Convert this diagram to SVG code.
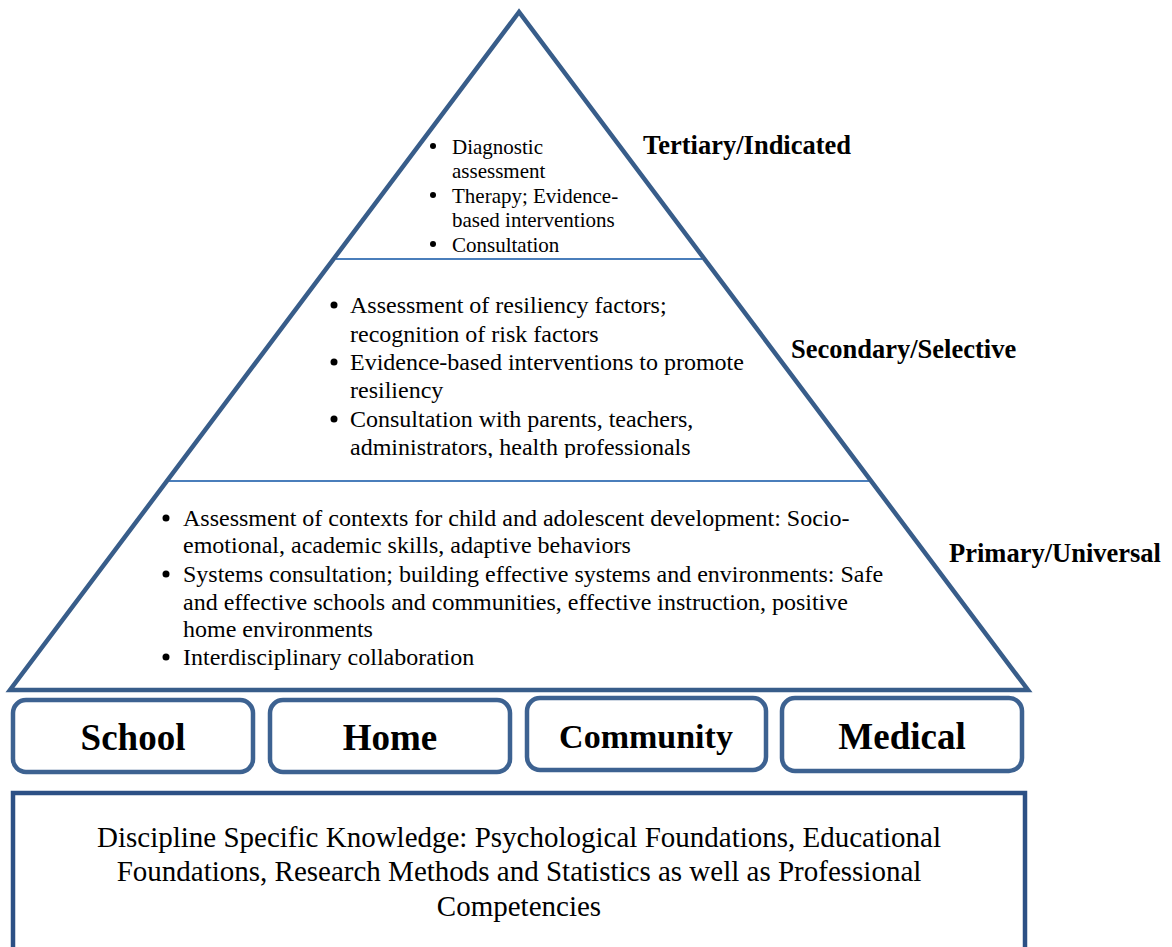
<svg xmlns="http://www.w3.org/2000/svg" width="1172" height="947" viewBox="0 0 1172 947">
  <style>
    text { font-family: "Liberation Serif", "Times New Roman", serif; font-weight: 400; fill: #000; }
    .tier { font-weight: 700; font-size: 26.5px; }
    .ctx { font-weight: 700; font-size: 37px; text-anchor: middle; }
    .divider { stroke: #4a7ebb; stroke-width: 2; fill: none; }
    .pyramid { stroke: #385d8a; stroke-width: 4.5; stroke-linejoin: miter; }
    .ctxbox { stroke: #3d6291; stroke-width: 4.5; fill: #fff; }
    .base { stroke: #2c5085; stroke-width: 4.5; fill: #fff; }
    .dot { fill: #000; }
  </style>
  <defs>
    <clipPath id="clipSecondary">
      <rect x="300" y="280" width="500" height="178"/>
    </clipPath>
  </defs>

  <rect width="1172" height="947" fill="#fff"/>

  <!-- pyramid outline with tier dividers -->
  <g id="pyramid">
    <line class="divider" x1="336" y1="259" x2="702" y2="259"/>
    <line class="divider" x1="169" y1="481" x2="869" y2="481"/>
    <polygon class="pyramid" points="519,12 10,690 1028,690" fill="none"/>
  </g>

  <!-- tertiary tier -->
  <g id="tertiary" font-size="21">
    <circle class="dot" cx="433" cy="146" r="3"/>
    <text x="452" y="154">Diagnostic</text>
    <text x="452" y="178">assessment</text>
    <circle class="dot" cx="433" cy="195" r="3"/>
    <text x="452" y="203">Therapy; Evidence-</text>
    <text x="452" y="227">based interventions</text>
    <circle class="dot" cx="433" cy="244" r="3"/>
    <text x="452" y="252">Consultation</text>
  </g>
  <text id="label-tertiary" class="tier" x="643" y="154">Tertiary/Indicated</text>

  <!-- secondary tier -->
  <g id="secondary" font-size="24" clip-path="url(#clipSecondary)">
    <circle class="dot" cx="334" cy="305" r="3.5"/>
    <text x="350" y="313">Assessment of resiliency factors;</text>
    <text x="350" y="342">recognition of risk factors</text>
    <circle class="dot" cx="334" cy="362" r="3.5"/>
    <text x="350" y="370">Evidence-based interventions to promote</text>
    <text x="350" y="398">resiliency</text>
    <circle class="dot" cx="334" cy="419" r="3.5"/>
    <text x="350" y="427">Consultation with parents, teachers,</text>
    <text x="350" y="455">administrators, health professionals</text>
  </g>
  <text id="label-secondary" class="tier" x="791" y="358">Secondary/Selective</text>

  <!-- primary tier -->
  <g id="primary" font-size="24">
    <circle class="dot" cx="166" cy="518" r="3.5"/>
    <text x="183" y="526">Assessment of contexts for child and adolescent development: Socio-</text>
    <text x="183" y="553">emotional, academic skills, adaptive behaviors</text>
    <circle class="dot" cx="166" cy="574" r="3.5"/>
    <text x="183" y="582">Systems consultation; building effective systems and environments: Safe</text>
    <text x="183" y="610">and effective schools and communities, effective instruction, positive</text>
    <text x="183" y="637">home environments</text>
    <circle class="dot" cx="166" cy="657" r="3.5"/>
    <text x="183" y="665">Interdisciplinary collaboration</text>
  </g>
  <text id="label-primary" class="tier" x="949" y="562">Primary/Universal</text>

  <!-- practice contexts -->
  <g id="school">
    <rect class="ctxbox" x="13" y="700" width="240" height="72" rx="13"/>
    <text class="ctx" x="133" y="750">School</text>
  </g>
  <g id="home">
    <rect class="ctxbox" x="270" y="700" width="240" height="72" rx="13"/>
    <text class="ctx" x="390" y="750">Home</text>
  </g>
  <g id="community">
    <rect class="ctxbox" x="527" y="698" width="239" height="72" rx="13"/>
    <text class="ctx" x="646" y="748" style="font-size:34px">Community</text>
  </g>
  <g id="medical">
    <rect class="ctxbox" x="782" y="698" width="240" height="73" rx="13"/>
    <text class="ctx" x="902" y="749">Medical</text>
  </g>

  <!-- foundation -->
  <g id="foundation">
    <rect class="base" x="13" y="793" width="1012" height="170"/>
    <g font-size="29" text-anchor="middle">
      <text x="519" y="847">Discipline Specific Knowledge: Psychological Foundations, Educational</text>
      <text x="519" y="881">Foundations, Research Methods and Statistics as well as Professional</text>
      <text x="519" y="916">Competencies</text>
    </g>
  </g>
</svg>
